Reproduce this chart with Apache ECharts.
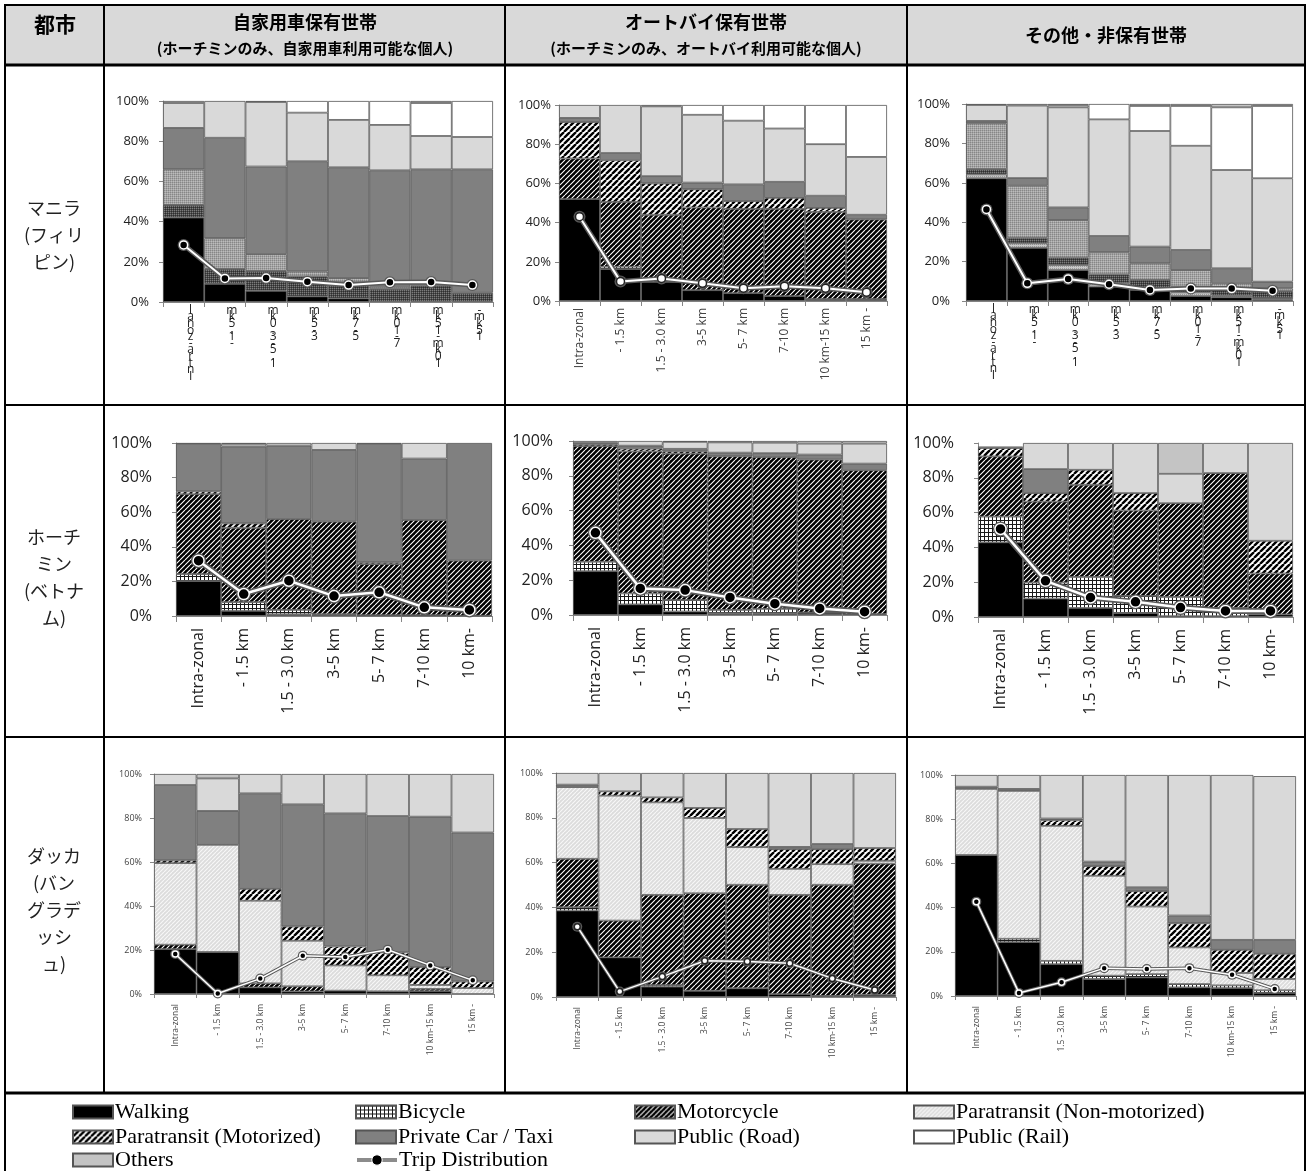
<!DOCTYPE html>
<html>
<head>
<meta charset="utf-8">
<script src="https://cdn.jsdelivr.net/npm/echarts@6.0.0/dist/echarts.min.js"></script>
<style>
html,body{margin:0;padding:0;background:#fff;}
#chart{width:1307px;height:1171px;}
</style>
</head>
<body>
<div id="chart"></div>
<script>
// ---------------- DATA ----------------
const modes = ['Walking','Bicycle','Motorcycle','Paratransit (Non-motorized)','Paratransit (Motorized)','Private Car / Taxi','Public (Road)','Public (Rail)','Others'];
const distBands8 = ['Intra-zonal','- 1.5 km','1.5 - 3.0 km','3-5 km','5- 7 km','7-10 km','10 km-15 km','15 km -'];
const distBands7 = ['Intra-zonal','- 1.5 km','1.5 - 3.0 km','3-5 km','5- 7 km','7-10 km','10 km-'];
const yTickValues = [0, 20, 40, 60, 80, 100];

// rows of each table follow the order of `modes`
const manilaCar = [
  [42, 9, 5.6, 2.8, 1.8, 0, 0, 0],
  [0, 0, 0, 0, 0, 0, 0, 0],
  [6.3, 7.5, 9.9, 9.9, 8.0, 6.6, 8.1, 4.6],
  [0, 0, 0, 0, 0, 0, 0, 0],
  [17.7, 15.2, 8.3, 2.5, 2.1, 1.0, 0, 0],
  [20.6, 50.0, 43.6, 54.8, 55.1, 57.9, 57.9, 61.4],
  [12.4, 18.3, 32.1, 24.2, 23.6, 22.6, 16.6, 16.1],
  [0, 0, 0, 5.8, 9.4, 11.9, 16.4, 17.9],
  [1, 0, 0.5, 0, 0, 0, 1, 0]
];
const manilaCarTrips = [28.4, 11.7, 11.9, 10.1, 8.4, 9.8, 9.9, 8.4];

const manilaMoto = [
  [52, 16.3, 9.8, 5.5, 4, 2.5, 1, 1],
  [0, 1.2, 0, 0, 0, 0, 0, 0],
  [20.7, 33.1, 34.2, 42.2, 43, 44.5, 44.5, 40.6],
  [0, 0, 0, 0, 0, 0, 0, 0],
  [18.6, 21.2, 16, 9.3, 4, 5.6, 2, 0],
  [2.1, 3.7, 3.7, 3.4, 8.5, 8.2, 6.2, 2.4],
  [6.6, 24.5, 35.6, 34.6, 32.5, 27.2, 26.3, 29.5],
  [0, 0, 0.7, 5, 8, 12, 20, 26.5],
  [0, 0, 0, 0, 0, 0, 0, 0]
];
const manilaMotoTrips = [43, 10, 11.5, 9, 6.5, 7.5, 6.5, 4.5];

const manilaOther = [
  [62.3, 27, 15.7, 7.3, 5.6, 2.5, 1.9, 0.8],
  [2, 2.3, 2.6, 1.7, 0.9, 1.9, 0.8, 0.7],
  [2.7, 2.8, 3.7, 4.5, 4.2, 2.9, 3.4, 3.5],
  [0, 0, 0, 0, 0, 0, 0, 0],
  [23.2, 26.4, 19.1, 11.2, 8.4, 8.4, 2.9, 1.4],
  [1.2, 3.9, 6.4, 8.3, 8.5, 10.2, 7.6, 3.4],
  [8.1, 36.8, 50.8, 59.2, 58.7, 52.9, 49.9, 52.5],
  [0, 0, 1, 7.8, 12.7, 20.2, 31.8, 36.7],
  [0.5, 0.8, 0.7, 0, 1, 1, 1.7, 1]
];
const manilaOtherTrips = [46.5, 9, 11.2, 8.5, 5.6, 6.3, 6.3, 5.2];

const hcmcCar = [
  [20.2, 3, 1, 0.5, 0.3, 0.3, 0.2],
  [4, 5, 2.5, 0.5, 0.2, 0.2, 0],
  [46.2, 43, 52.5, 53.5, 29.5, 55, 31.8],
  [0, 0, 0, 0, 0, 0, 0],
  [1.6, 2.5, 0, 0, 1, 0, 0],
  [27.5, 44.5, 42.5, 41.5, 68.5, 35.5, 68],
  [0, 1.5, 1.5, 4, 0.5, 9, 0],
  [0, 0, 0, 0, 0, 0, 0],
  [0.5, 0.5, 0, 0, 0, 0, 0]
];
const hcmcCarTrips = [32, 12.7, 20.4, 11.5, 13.7, 5, 3.5];

const hcmcMoto = [
  [25.2, 6.1, 2, 1, 1, 1.2, 0.5],
  [5.4, 6.3, 6.6, 1.9, 2.5, 0.3, 0],
  [66.5, 81.6, 84.1, 88.3, 87.3, 87.8, 82.7],
  [0, 0, 0, 0, 0, 0, 0],
  [1, 1.6, 1.3, 0, 0, 0, 0],
  [0.9, 1.7, 1.5, 2.1, 2.2, 2.9, 3.8],
  [1, 2.7, 4, 5.9, 6, 6.3, 11.5],
  [0, 0, 0, 0, 0, 0, 0],
  [0, 0, 0.5, 0.8, 1, 1.5, 1.5]
];
const hcmcMotoTrips = [47.2, 15.3, 14.3, 10.1, 6.5, 3.8, 1.9];

const hcmcOther = [
  [42.9, 10.6, 5.2, 2.3, 0.5, 0.5, 1.5],
  [14.8, 9.2, 17.8, 9.8, 11, 4.7, 0],
  [34.6, 46.5, 53, 49.1, 53.9, 77.5, 23.5],
  [0, 0, 0, 0, 0, 0, 0],
  [4.8, 4.9, 8.6, 10, 0, 0, 18.8],
  [0, 13.8, 0, 0, 0, 0, 0],
  [0.9, 15, 15.4, 28.8, 16.9, 17.3, 56.2],
  [0, 0, 0, 0, 0, 0, 0],
  [0, 0, 0, 0, 17.7, 0, 0]
];
const hcmcOtherTrips = [50.6, 20.8, 11.2, 8.7, 5.4, 3.5, 3.5];

const dhakaCar = [
  [20.4, 19.1, 3, 1.2, 1.5, 1.2, 1.3, 0],
  [0, 0, 0, 0, 0, 0, 0, 0],
  [2, 0, 1.8, 2.3, 0, 0, 1, 0],
  [37.1, 48.7, 37.6, 20.7, 11.5, 7.3, 1.8, 2.7],
  [1.2, 0, 5.4, 6.5, 8.6, 10.4, 8.2, 3],
  [34.3, 15.4, 43.4, 55.5, 60.5, 62, 68.3, 67.7],
  [5, 14.8, 8.8, 13.8, 17.9, 19.1, 19.4, 26.6],
  [0, 0, 0, 0, 0, 0, 0, 0],
  [0, 2, 0, 0, 0, 0, 0, 0]
];
const dhakaCarTrips = [18.2, 0.2, 7, 17.4, 16.8, 20.1, 13, 6.2];

const dhakaMoto = [
  [38.6, 17.7, 4.6, 2.8, 3.9, 1.3, 0.5, 1],
  [1.5, 0, 0.7, 0, 0, 0, 0, 0],
  [21.6, 16.4, 40.3, 43.5, 46.2, 44.3, 49.6, 58.5],
  [32, 55.8, 41.3, 33.6, 16.8, 11.6, 9.2, 1.3],
  [0, 1.9, 2.2, 4.5, 8.1, 8.8, 6.7, 5.7],
  [1.1, 0, 0, 0, 0, 1, 2.3, 0],
  [5.2, 8.2, 10.9, 15.6, 25, 33, 31.7, 33.5],
  [0, 0, 0, 0, 0, 0, 0, 0],
  [0, 0, 0, 0, 0, 0, 0, 0]
];
const dhakaMotoTrips = [31.4, 2.4, 9.1, 16.2, 15.8, 15.1, 8.3, 3.1];

const dhakaOther = [
  [63.8, 24.4, 14.4, 7.7, 8.4, 3.9, 3.6, 1.4],
  [0, 1.5, 1.5, 1.5, 1.5, 1.5, 1.2, 1.2],
  [0, 0, 0, 0, 0, 0, 0, 0],
  [29.9, 66.9, 61.1, 45.2, 30.6, 16.6, 5.6, 5.1],
  [0, 0, 2.5, 4.4, 7, 10.9, 10.5, 11.4],
  [1, 0.9, 0.8, 2, 1.7, 3.5, 4.5, 6.3],
  [5.3, 6.3, 19.7, 39.2, 50.8, 63.6, 74.6, 74.1],
  [0, 0, 0, 0, 0, 0, 0, 0],
  [0, 0, 0, 0, 0, 0, 0, 0]
];
const dhakaOtherTrips = [42.7, 1.4, 6.2, 12.6, 12.2, 12.6, 9.6, 3.2];

const cityLabels = ['マニラ\n(フィリ\nピン)', 'ホーチ\nミン\n(ベトナ\nム)', 'ダッカ\n(バン\nグラデ\nッシ\nュ)'];
const headerTitles = ['自家用車保有世帯', 'オートバイ保有世帯', 'その他・非保有世帯'];
const headerNotes = ['(ホーチミンのみ、自家用車利用可能な個人)', '(ホーチミンのみ、オートバイ利用可能な個人)', ''];
const legendOrder = ['Walking','Bicycle','Motorcycle','Paratransit (Non-motorized)','Paratransit (Motorized)','Private Car / Taxi','Public (Road)','Public (Rail)','Others','Trip Distribution'];

// ---------------- PATTERNS ----------------
function tile(size, bg, draw) {
  const c = document.createElement('canvas');
  c.width = size; c.height = size;
  const g = c.getContext('2d');
  g.fillStyle = bg; g.fillRect(0, 0, size, size);
  if (draw) draw(g, size);
  return { image: c, repeat: 'repeat' };
}
function diag(g, s, color, w) {
  g.strokeStyle = color; g.lineWidth = w; g.beginPath();
  for (let k = -1; k <= 1; k++) { g.moveTo(k * s, s); g.lineTo(k * s + s, 0); }
  g.stroke();
}
const fillWalk = '#000000';
const fillBike = tile(4, '#ffffff', (g) => { g.fillStyle = '#1a1a1a'; g.fillRect(0, 0, 4, 1); g.fillRect(0, 0, 1, 4); });
const fillMoto = tile(5, '#000000', (g, s) => diag(g, s, '#ffffff', 1.1));
const fillParaNM = tile(4, '#dcdcdc', (g, s) => diag(g, s, '#f7f7f7', 1.1));
const fillParaM = tile(6, '#ffffff', (g, s) => diag(g, s, '#000000', 2.4));
const fillCar = '#808080';
const fillRoad = '#d9d9d9';
const fillRail = '#ffffff';
const fillOthers = '#c4c4c4';
const standardFills = [fillWalk, fillBike, fillMoto, fillParaNM, fillParaM, fillCar, fillRoad, fillRail, fillOthers];
const fillLightDots = tile(2, '#c8c8c8', (g) => { g.fillStyle = '#9a9a9a'; g.fillRect(0, 0, 1, 1); });
const fillDarkDots = tile(2, '#4a4a4a', (g) => { g.fillStyle = '#7c7c7c'; g.fillRect(0, 0, 1, 1); g.fillStyle = '#2e2e2e'; g.fillRect(1, 1, 1, 1); });
const fillGrayDots = tile(2, '#a4a4a4', (g) => { g.fillStyle = '#878787'; g.fillRect(0, 0, 1, 1); g.fillStyle = '#bcbcbc'; g.fillRect(1, 1, 1, 1); });
const manilaFills = [fillWalk, fillLightDots, fillDarkDots, fillParaNM, fillGrayDots, fillCar, fillRoad, fillRail, fillOthers];

// ---------------- LAYOUT ----------------
const rowStyle = [
  { yFont: 13, xFont: 12, sym: 8, tick: 5, lw: 5, lwIn: 2 },
  { yFont: 16, xFont: 16, sym: 11, tick: 6, lw: 6, lwIn: 2.5 },
  { yFont: 9, xFont: 8.5, sym: 6, tick: 4, lw: 3.5, lwIn: 1.5 }
];
const panels = [
  { data: manilaCar, trips: manilaCarTrips, cats: distBands8, box: [163, 101, 330, 201], row: 0, stackLabels: true, yMargin: 14, xMargin: 5, marker: '#000', fills: manilaFills },
  { data: manilaMoto, trips: manilaMotoTrips, cats: distBands8, box: [559, 105, 328, 196], row: 0, stackLabels: false, yMargin: 8, xMargin: 7, marker: '#fff', fills: standardFills },
  { data: manilaOther, trips: manilaOtherTrips, cats: distBands8, box: [966, 104, 327, 197], row: 0, stackLabels: true, yMargin: 16, xMargin: 5, marker: '#000', fills: manilaFills },
  { data: hcmcCar, trips: hcmcCarTrips, cats: distBands7, box: [176, 443, 316, 173], row: 1, stackLabels: false, yMargin: 24, xMargin: 12, marker: '#000', fills: standardFills },
  { data: hcmcMoto, trips: hcmcMotoTrips, cats: distBands7, box: [573, 441, 314, 174], row: 1, stackLabels: false, yMargin: 20, xMargin: 12, marker: '#000', fills: standardFills },
  { data: hcmcOther, trips: hcmcOtherTrips, cats: distBands7, box: [978, 443, 315, 174], row: 1, stackLabels: false, yMargin: 24, xMargin: 12, marker: '#000', fills: standardFills },
  { data: dhakaCar, trips: dhakaCarTrips, cats: distBands8, box: [154, 774, 340, 220], row: 2, stackLabels: false, yMargin: 12, xMargin: 10, marker: '#000', fills: standardFills },
  { data: dhakaMoto, trips: dhakaMotoTrips, cats: distBands8, box: [556, 773, 340, 224], row: 2, stackLabels: false, yMargin: 13, xMargin: 10, marker: '#fff', fills: standardFills },
  { data: dhakaOther, trips: dhakaOtherTrips, cats: distBands8, box: [955, 775, 341, 221], row: 2, stackLabels: false, yMargin: 12, xMargin: 10, marker: '#000', fills: standardFills }
];

const grids = [], xAxes = [], yAxes = [], series = [];
panels.forEach((p, i) => {
  const rs = rowStyle[p.row];
  grids.push({ left: p.box[0], top: p.box[1], width: p.box[2], height: p.box[3], containLabel: false, outerBoundsMode: 'none' });
  const xLabel = p.stackLabels ? {
    interval: 0, rotate: 0, fontSize: rs.xFont, fontFamily: 'Open Sans', color: '#222',
    margin: p.xMargin, lineHeight: 6.6, align: 'center', verticalAlign: 'top', padding: [0, 0, 0, 14],
    formatter: (v) => v.replace(/\s/g, '').split('').reverse().join('\n')
  } : {
    interval: 0, rotate: 90, fontSize: rs.xFont, fontFamily: 'Open Sans', color: p.row === 1 ? '#222' : '#444', margin: p.xMargin
  };
  xAxes.push({
    type: 'category', gridIndex: i, data: p.cats, boundaryGap: true,
    axisLine: { show: true, lineStyle: { color: '#868686', width: 1 } },
    axisTick: { show: true, interval: 0, length: rs.tick, lineStyle: { color: '#868686' } },
    axisLabel: xLabel, splitLine: { show: false }
  });
  yAxes.push({
    type: 'value', gridIndex: i, min: yTickValues[0], max: yTickValues[yTickValues.length - 1], interval: yTickValues[1] - yTickValues[0],
    axisLine: { show: true, lineStyle: { color: '#868686', width: 1 } },
    axisTick: { show: true, length: 4, lineStyle: { color: '#868686' } },
    splitLine: { show: false },
    axisLabel: { formatter: '{value}%', fontSize: rs.yFont, fontFamily: 'Open Sans', color: p.row === 2 ? '#444' : '#222', margin: p.yMargin }
  });
});

// Build series; Manila panels last so legend icons use the standard patterns
const order = [3, 4, 5, 6, 7, 8, 0, 1, 2];
order.forEach((i) => {
  const p = panels[i];
  const rs = rowStyle[p.row];
  p.data.forEach((vals, m) => {
    series.push({
      type: 'bar', name: modes[m], xAxisIndex: i, yAxisIndex: i, stack: 'stk' + i,
      barCategoryGap: '0%', barGap: '0%', z: 2,
      data: vals.map((v) => (v === 0 ? null : v)),
      itemStyle: { color: p.fills[m], borderColor: '#555', borderWidth: 0.8 },
      emphasis: { disabled: true }
    });
  });
  series.push({
    type: 'line', name: 'trip-outline', xAxisIndex: i, yAxisIndex: i, z: 4,
    data: p.trips, symbol: 'circle', symbolSize: rs.sym + 4,
    lineStyle: { color: '#595959', width: rs.lw }, itemStyle: { color: '#595959' },
    emphasis: { disabled: true }
  });
  series.push({
    type: 'line', name: 'Trip Distribution', xAxisIndex: i, yAxisIndex: i, z: 5,
    data: p.trips, symbol: 'circle', symbolSize: rs.sym,
    lineStyle: { color: '#ffffff', width: rs.lwIn },
    itemStyle: { color: p.marker, borderColor: p.marker === '#000' ? '#fff' : '#222', borderWidth: 1.5 },
    emphasis: { disabled: true }
  });
});

// ---------------- TABLE GRAPHICS ----------------
const G = [];
G.push({ type: 'rect', shape: { x: 5, y: 5, width: 1300, height: 60 }, style: { fill: '#d9d9d9' }, z: -10, silent: true });
function hl(y, x1, x2, w) { G.push({ type: 'line', shape: { x1: x1, y1: y, x2: x2, y2: y }, style: { stroke: '#000', lineWidth: w }, z: 100, silent: true }); }
function vl(x, y1, y2, w) { G.push({ type: 'line', shape: { x1: x, y1: y1, x2: x, y2: y2 }, style: { stroke: '#000', lineWidth: w }, z: 100, silent: true }); }
hl(5, 4, 1306, 2); hl(65, 4, 1306, 3); hl(405, 4, 1306, 2); hl(737, 4, 1306, 2); hl(1093, 4, 1306, 3);
vl(5, 4, 1171, 2); vl(1305, 4, 1171, 2); vl(104, 4, 1093, 2); vl(505, 4, 1093, 2); vl(907, 4, 1093, 2);

const cjk = '"Noto Sans CJK JP", "Noto Sans CJK SC", sans-serif';
G.push({ type: 'text', x: 55, y: 24, silent: true, z: 50, style: { text: '都市', font: 'bold 21px ' + cjk, fill: '#000', align: 'center', verticalAlign: 'middle' } });
const colCenters = [305, 706, 1106];
headerTitles.forEach((t, k) => {
  const hasNote = headerNotes[k] !== '';
  G.push({ type: 'text', x: colCenters[k], y: hasNote ? 22 : 35, silent: true, z: 50, style: { text: t, font: 'bold 18px ' + cjk, fill: '#000', align: 'center', verticalAlign: 'middle' } });
  if (hasNote) G.push({ type: 'text', x: colCenters[k], y: 48, silent: true, z: 50, style: { text: headerNotes[k], font: 'bold 15px ' + cjk, fill: '#000', align: 'center', verticalAlign: 'middle' } });
});
const cityCenters = [235, 578, 910];
cityLabels.forEach((t, k) => {
  G.push({ type: 'text', x: 54, y: cityCenters[k], silent: true, z: 50, style: { text: t, font: '18px ' + cjk, fill: '#222', align: 'center', verticalAlign: 'middle', lineHeight: 27 } });
});

// ---------------- LEGEND (one legend per cell, 4 columns x 3 rows) ----------------
const legendCols = [72, 355, 634, 913];
const legendRowTops = [1101, 1126, 1149];
const legends = legendOrder.map((name, k) => {
  const item = name === 'Trip Distribution'
    ? { name: name, lineStyle: { color: '#8c8c8c', width: 4 }, itemStyle: { color: '#000', borderColor: '#fff', borderWidth: 1 } }
    : { name: name, icon: 'rect' };
  return {
    left: legendCols[k % 4], top: legendRowTops[Math.floor(k / 4)],
    orient: 'horizontal', itemWidth: 40, itemHeight: 13, itemGap: 0, padding: 0,
    selectedMode: false, data: [item],
    textStyle: { fontFamily: '"Liberation Serif", "DejaVu Serif", serif', fontSize: 22, color: '#000', padding: [0, 0, 0, -3] }
  };
});

const chart = echarts.init(document.getElementById('chart'), null, { renderer: 'canvas', width: 1307, height: 1171 });
chart.setOption({
  animation: false,
  backgroundColor: '#ffffff',
  grid: grids, xAxis: xAxes, yAxis: yAxes, series: series,
  legend: legends,
  graphic: { elements: G }
});
</script>
</body>
</html>
